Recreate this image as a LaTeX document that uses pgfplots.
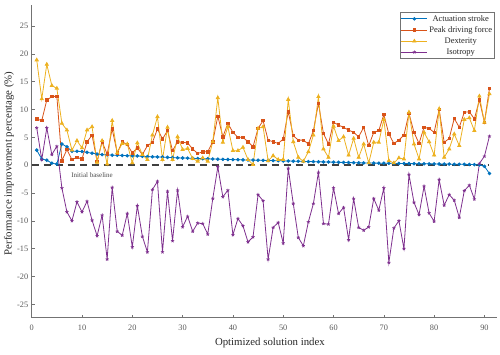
\documentclass[border=0pt]{standalone}
\usepackage{pgfplots}
\pgfplotsset{compat=1.18}
\usepackage{fontspec}
\setmainfont{Liberation Serif}
\definecolor{mblue}{rgb}{0,0.447,0.741}
\definecolor{morange}{rgb}{0.85,0.325,0.098}
\definecolor{myellow}{rgb}{0.929,0.694,0.125}
\definecolor{mpurple}{rgb}{0.494,0.184,0.556}
\pgfplotstableread{
x y
1 2.7
2 1.1
3 0.9
4 0.35
5 0.2
6 3.8
7 3.3
8 2.5
9 2.5
10 2.45
11 2.3
12 2.15
13 2.0
14 1.9
15 1.85
16 1.8
17 1.78
18 1.75
19 1.7
20 1.68
21 1.65
22 1.6
23 1.55
24 1.5
25 1.48
26 1.45
27 1.4
28 1.36
29 1.32
30 1.29
31 1.26
32 1.23
33 1.2
34 1.17
35 1.14
36 1.11
37 1.08
38 1.05
39 1.02
40 1.0
41 0.98
42 0.95
43 0.93
44 0.91
45 0.89
46 0.87
47 0.84
48 0.82
49 0.8
50 0.77
51 0.75
52 0.72
53 0.7
54 0.68
55 0.65
56 0.63
57 0.61
58 0.58
59 0.56
60 0.54
61 0.51
62 0.49
63 0.47
64 0.44
65 0.42
66 0.4
67 0.39
68 0.37
69 0.36
70 0.35
71 0.34
72 0.32
73 0.31
74 0.3
75 0.29
76 0.27
77 0.26
78 0.25
79 0.24
80 0.22
81 0.21
82 0.2
83 0.19
84 0.17
85 0.16
86 0.15
87 0.13
88 0.1
89 0.05
90 -0.2
91 -1.5
}\stroke
\pgfplotstableread{
x y
1 8.3
2 8.0
3 11.7
4 12.3
5 12.4
6 0.8
7 2.8
8 1.0
9 1.4
10 1.1
11 4.2
12 5.4
13 0.7
14 4.2
15 2.0
16 6.5
17 2.2
18 4.2
19 3.7
20 2.2
21 3.1
22 1.9
23 3.5
24 4.1
25 6.5
26 4.7
27 6.2
28 2.6
29 4.2
30 4.1
31 4.0
32 2.9
33 2.1
34 2.4
35 2.4
36 4.2
37 8.8
38 5.1
39 7.5
40 5.9
41 5.0
42 5.0
43 4.2
44 3.3
45 6.6
46 8.0
47 4.5
48 4.2
49 3.9
50 4.7
51 9.6
52 5.3
53 4.5
54 4.5
55 3.8
56 6.2
57 11.1
58 5.7
59 3.8
60 7.7
61 7.2
62 6.8
63 6.3
64 5.9
65 5.1
66 6.8
67 3.5
68 5.9
69 6.2
70 9.1
71 5.6
72 3.9
73 4.5
74 5.4
75 9.3
76 5.9
77 3.9
78 6.8
79 6.6
80 5.9
81 10.0
82 4.1
83 4.8
84 8.4
85 6.8
86 9.5
87 9.6
88 8.3
89 11.7
90 7.7
91 13.8
}\force
\pgfplotstableread{
x y
1 18.9
2 11.9
3 18.1
4 14.3
5 13.8
6 7.5
7 6.3
8 2.7
9 4.4
10 3.1
11 6.3
12 6.9
13 0.5
14 4.4
15 0.2
16 8.0
17 2.2
18 3.9
19 3.8
20 0.4
21 4.0
22 1.9
23 1.0
24 5.4
25 8.7
26 1.0
27 6.8
28 1.0
29 5.1
30 2.8
31 3.0
32 1.2
33 0.7
34 1.3
35 0.7
36 4.2
37 12.1
38 4.1
39 6.9
40 2.6
41 2.6
42 3.2
43 1.0
44 0.1
45 6.6
46 6.9
47 0.8
48 1.7
49 1.0
50 1.0
51 11.8
52 4.2
53 1.4
54 0.7
55 2.4
56 5.4
57 12.3
58 2.9
59 1.4
60 7.0
61 4.4
62 5.1
63 1.8
64 4.8
65 1.4
66 3.8
67 0.4
68 4.1
69 4.1
70 8.2
71 0.8
72 0.4
73 1.3
74 1.1
75 9.5
76 3.8
77 1.1
78 5.9
79 4.2
80 1.8
81 10.1
82 1.4
83 2.9
84 5.6
85 3.5
86 8.2
87 8.5
88 6.2
89 12.4
90 7.7
91 12.8
}\dext
\pgfplotstableread{
x y
1 6.7
2 1.0
3 6.7
4 1.9
5 3.4
6 -4.1
7 -8.4
8 -10.0
9 -6.6
10 -8.4
11 -6.5
12 -9.9
13 -12.7
14 -9.0
15 -16.9
16 -4.0
17 -11.9
18 -12.6
19 -8.7
20 -14.7
21 -7.3
22 -12.8
23 -15.6
24 -4.4
25 -2.9
26 -15.6
27 -4.7
28 -13.6
29 -4.5
30 -11.1
31 -9.2
32 -11.9
33 -10.4
34 -10.5
35 -12.4
36 -6.0
37 -0.3
38 -5.7
39 -4.5
40 -12.5
41 -9.6
42 -10.9
43 -13.8
44 -12.9
45 -5.3
46 -6.4
47 -16.9
48 -11.2
49 -10.3
50 -14.0
51 -0.6
52 -6.9
53 -13.0
54 -14.5
55 -10.2
56 -6.9
57 -1.3
58 -10.5
59 -10.6
60 -4.1
61 -8.7
62 -7.6
63 -13.4
64 -6.0
65 -11.2
66 -11.7
67 -11.1
68 -6.0
69 -8.1
70 -4.1
71 -17.5
72 -11.3
73 -10.0
74 -15.0
75 -1.7
76 -6.7
77 -8.9
78 -3.8
79 -8.6
80 -10.1
81 -2.6
82 -7.2
83 -5.3
84 -6.3
85 -9.4
86 -4.6
87 -3.6
88 -6.1
89 0.3
90 1.6
91 5.2
}\iso
\begin{document}
\begin{tikzpicture}
\path[use as bounding box] (-31.7pt,-36.3pt) rectangle (468.3pt,317.7pt);
\begin{axis}[
  at={(0,0)}, anchor=south west,
  scale only axis, width=465.3pt, height=312.3pt,
  xmin=0, xmax=92.5, ymin=-27.4, ymax=28.7,
  axis x line*=bottom, axis y line*=left,
  axis line style={black!55, line width=0.6pt},
  xtick={0,10,...,90}, ytick={-25,-20,...,25},
  tick align=inside, major tick length=3pt,
  tick style={black!55, line width=0.5pt},
  ticklabel style={font=\fontsize{8.3}{9}\selectfont, text=black!65},
  xticklabel style={yshift=-4pt},
  /pgf/number format/assume math mode=true,
  xlabel={Optimized solution index},
  ylabel={Performance improvement percentage (\%)},
  label style={font=\fontsize{10.8}{12}\selectfont, text=black!85},
  xlabel style={at={(axis description cs:0.512,-0.081)}, anchor=center},
  ylabel style={at={(axis description cs:-0.049,0.494)}, anchor=center, rotate=0},
  legend style={at={(0.9957,0.978)}, anchor=north east, draw=black!55,
    line width=0.5pt, font=\fontsize{8.5}{9.5}\selectfont, text=black!85,
    inner sep=1pt, row sep=0.6pt, nodes={inner sep=1.6pt}},
  legend cell align=center,
  legend image code/.code={\draw[mark repeat=2,mark phase=2] plot coordinates {(0pt,0pt) (13pt,0pt) (26pt,0pt)};},
  every axis plot/.append style={line width=0.8pt},
]
\addplot[forget plot, black!75, line width=1.8pt, dash pattern=on 7pt off 5pt, mark=none] coordinates {(0,0) (91,0)};
\addplot[mblue, mark=*, mark size=1.35pt] table[x=x,y=y] {\stroke};
\addlegendentry{Actuation stroke}
\addplot[morange, mark=square*, mark size=1.2pt] table[x=x,y=y] {\force};
\addlegendentry{Peak driving force}
\addplot[myellow, mark=triangle*, mark size=1.8pt] table[x=x,y=y] {\dext};
\addlegendentry{Dexterity}
\addplot[mpurple, mark=star, mark size=1.7pt, mark options={line width=0.7pt}] table[x=x,y=y] {\iso};
\addlegendentry{Isotropy}
\node[font=\fontsize{7}{8}\selectfont, text=black!70] at (axis cs:12,-1.8) {Initial baseline};
\end{axis}
\end{tikzpicture}
\end{document}
